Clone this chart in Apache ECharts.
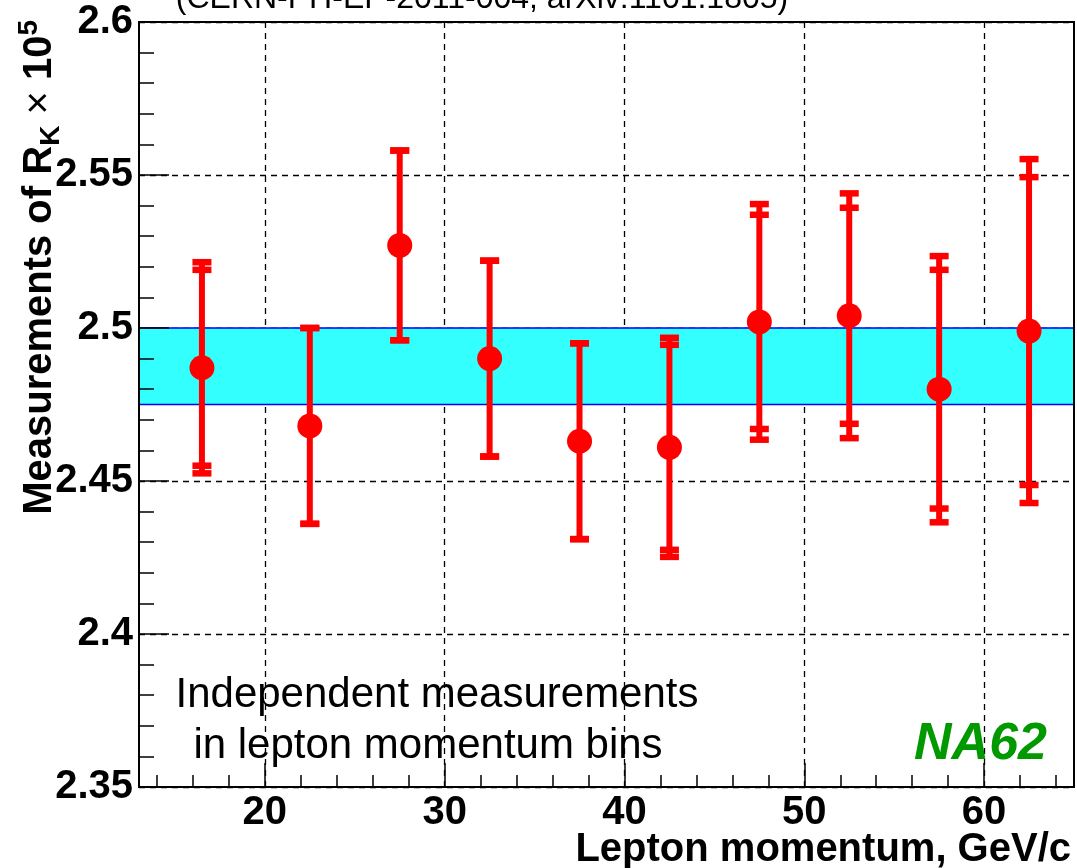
<!DOCTYPE html>
<html><head><meta charset="utf-8">
<script src="https://cdn.jsdelivr.net/npm/echarts@6/dist/echarts.min.js"></script>
<style>html,body{margin:0;padding:0;background:#fff}#c{width:1077px;height:868px}</style>
</head><body><div id="c"></div>
<script>
// ---- data ----
const momentumBins = [16.5, 22.5, 27.5, 32.5, 37.5, 42.5, 47.5, 52.5, 57.5, 62.5];
const rkValues     = [2.487, 2.468, 2.527, 2.490, 2.463, 2.461, 2.502, 2.504, 2.480, 2.499];
const statErrors   = [0.032, 0.032, 0.031, 0.032, 0.032, 0.0335, 0.035, 0.0353, 0.039, 0.0503];
const totalErrors  = [0.0345, 0.032, 0.031, 0.032, 0.032, 0.0358, 0.0385, 0.040, 0.0435, 0.0562];
const combinedBand = [2.475, 2.5];
const xRange = [13, 65];
const yRange = [2.35, 2.6];
const xMajorTicks = [20, 60, 10];   // first, last, step
const xMinorTicks = [14, 64, 2];    // first, last, step
const yTickLabels = ['2.35', '2.4', '2.45', '2.5', '2.55', '2.6'];

const FONT = 'Liberation Sans, Arial, Helvetica, sans-serif';
const chart = echarts.init(document.getElementById('c'), null, {renderer: 'canvas'});

// plot frame (pixels)
const W = 1077, L = 139, R = 3, T = 22, B = 81;
const ppu = (W - L - R) / (xRange[1] - xRange[0]);
// tick grids share the main grid's scale, offset so that their axis min/max fall on the tick values
const majGrid = {left: L + (xMajorTicks[0] - xRange[0]) * ppu, right: R + (xRange[1] - xMajorTicks[1]) * ppu, top: T, bottom: B};
const minGrid = {left: L + (xMinorTicks[0] - xRange[0]) * ppu, right: R + (xRange[1] - xMinorTicks[1]) * ppu, top: T, bottom: B};

const dashed = {show: true, lineStyle: {color: '#000', width: 1.3, type: [6, 5]}};
const off = {show: false};
const hiddenY = gi => ({type: 'value', gridIndex: gi, min: yRange[0], max: yRange[1], show: false,
                        axisLine: off, axisTick: off, axisLabel: off, splitLine: off});

const errData = momentumBins.map((x, i) => [x, rkValues[i], statErrors[i], totalErrors[i]]);
const ptData = momentumBins.map((x, i) => [x, rkValues[i]]);

chart.setOption({
  animation: false,
  backgroundColor: '#fff',
  grid: [
    {left: L, right: R, top: T, bottom: B, show: true, borderColor: '#000', borderWidth: 2,
     backgroundColor: 'transparent', z: 10},
    majGrid,
    minGrid
  ],
  xAxis: [
    // 0: data axis (main grid)
    {type: 'value', gridIndex: 0, min: xRange[0], max: xRange[1], z: 10,
     axisLine: {show: true, onZero: false, lineStyle: {color: '#000', width: 2}},
     axisTick: off, axisLabel: off, splitLine: off},
    // 1: dashed grid lines at major ticks
    {type: 'value', gridIndex: 1, min: xMajorTicks[0], max: xMajorTicks[1], interval: xMajorTicks[2], z: 0,
     axisLine: off, axisTick: off, axisLabel: off, splitLine: dashed},
    // 2: major ticks + labels
    {type: 'value', gridIndex: 1, min: xMajorTicks[0], max: xMajorTicks[1], interval: xMajorTicks[2],
     position: 'bottom', z: 10,
     axisLine: off, splitLine: off,
     axisTick: {show: true, inside: true, length: 24, lineStyle: {color: '#000', width: 1.5}},
     axisLabel: {show: true, fontSize: 40, fontWeight: 'bold', fontFamily: FONT, color: '#000', margin: 6}},
    // 3: minor ticks
    {type: 'value', gridIndex: 2, min: xMinorTicks[0], max: xMinorTicks[1], interval: xMinorTicks[2],
     position: 'bottom', z: 10,
     axisLine: off, axisLabel: off, splitLine: off,
     axisTick: {show: true, inside: true, length: 12, lineStyle: {color: '#000', width: 1.5}}}
  ],
  yAxis: [
    {type: 'value', gridIndex: 0, min: yRange[0], max: yRange[1], interval: 0.05, z: 0,
     axisLine: off, axisTick: off, axisLabel: off, splitLine: dashed},
    {type: 'value', gridIndex: 0, min: yRange[0], max: yRange[1], interval: 0.05, position: 'left', z: 10,
     axisLine: {show: true, onZero: false, lineStyle: {color: '#000', width: 2}},
     axisTick: {show: true, inside: true, length: 30, lineStyle: {color: '#000', width: 1.5}},
     minorTick: {show: true, splitNumber: 5, length: 15, lineStyle: {color: '#000', width: 1.5}},
     axisLabel: {show: true, fontSize: 40, fontWeight: 'bold', fontFamily: FONT, color: '#000', margin: 6,
                 formatter: v => yTickLabels[Math.round((v - yRange[0]) / 0.05)] || ''},
     splitLine: off},
    hiddenY(1),
    hiddenY(2)
  ],
  series: [
    {type: 'custom', name: 'errors', xAxisIndex: 0, yAxisIndex: 0, z: 3,
     data: errData, encode: {x: 0, y: 1},
     renderItem: function (params, api) {
       const x = api.value(0), v = api.value(1), s = api.value(2), t = api.value(3);
       const top = api.coord([x, v + t]), bot = api.coord([x, v - t]);
       const cw = 19, ch = 6.5;
       const children = [{type: 'line', shape: {x1: top[0], y1: top[1], x2: bot[0], y2: bot[1]},
                          style: {stroke: '#ff0000', lineWidth: 6}}];
       [v + t, v + s, v - s, v - t].forEach(val => {
         const p = api.coord([x, val]);
         children.push({type: 'rect', shape: {x: p[0] - cw / 2, y: p[1] - ch / 2, width: cw, height: ch},
                        style: {fill: '#ff0000'}});
       });
       return {type: 'group', children: children};
     },
     markArea: {silent: true, z: 1,
       itemStyle: {color: '#33ffff', borderColor: '#0000ff', borderWidth: 1.5, opacity: 1},
       label: {show: false},
       data: [[{yAxis: combinedBand[0]}, {yAxis: combinedBand[1]}]]}
    },
    {type: 'scatter', name: 'R_K', xAxisIndex: 0, yAxisIndex: 0, z: 4,
     data: ptData, symbol: 'circle', symbolSize: 25, itemStyle: {color: '#ff0000', opacity: 1}}
  ],
  graphic: [
    {type: 'text', x: 482, y: -1, z: 20,
     style: {text: '(CERN-PH-EP-2011-004, arXiv:1101.1805)', font: '32px ' + FONT, fill: '#000',
             textAlign: 'center', textVerticalAlign: 'middle'}},
    {type: 'text', x: 40, y: 20, rotation: Math.PI / 2, z: 20,
     style: {text: 'Measurements of R{sub|K} {x|×} 10{sup|5}', font: 'bold 40px ' + FONT, fill: '#000',
             lineHeight: 50, textAlign: 'right', textVerticalAlign: 'middle',
             rich: {
               sub: {fontSize: 28, fontWeight: 'bold', fontFamily: FONT, lineHeight: 28, verticalAlign: 'bottom'},
               sup: {fontSize: 28, fontWeight: 'bold', fontFamily: FONT, lineHeight: 28, verticalAlign: 'top'},
               x: {fontSize: 40, fontWeight: 'normal', fontFamily: FONT, lineHeight: 50}
             }}},
    {type: 'text', x: 1071, y: 850, z: 20,
     style: {text: 'Lepton momentum, GeV/c', font: 'bold 40px ' + FONT, fill: '#000',
             textAlign: 'right', textVerticalAlign: 'middle'}},
    {type: 'text', x: 437, y: 695, z: 20,
     style: {text: 'Independent measurements', font: '42px ' + FONT, fill: '#000',
             textAlign: 'center', textVerticalAlign: 'middle'}},
    {type: 'text', x: 428, y: 746, z: 20,
     style: {text: 'in lepton momentum bins', font: '42px ' + FONT, fill: '#000',
             textAlign: 'center', textVerticalAlign: 'middle'}},
    {type: 'text', x: 1047, y: 745, z: 20,
     style: {text: 'NA62', font: 'italic bold 52px ' + FONT, fill: '#009900',
             textAlign: 'right', textVerticalAlign: 'middle'}}
  ]
});
</script>
</body></html>
